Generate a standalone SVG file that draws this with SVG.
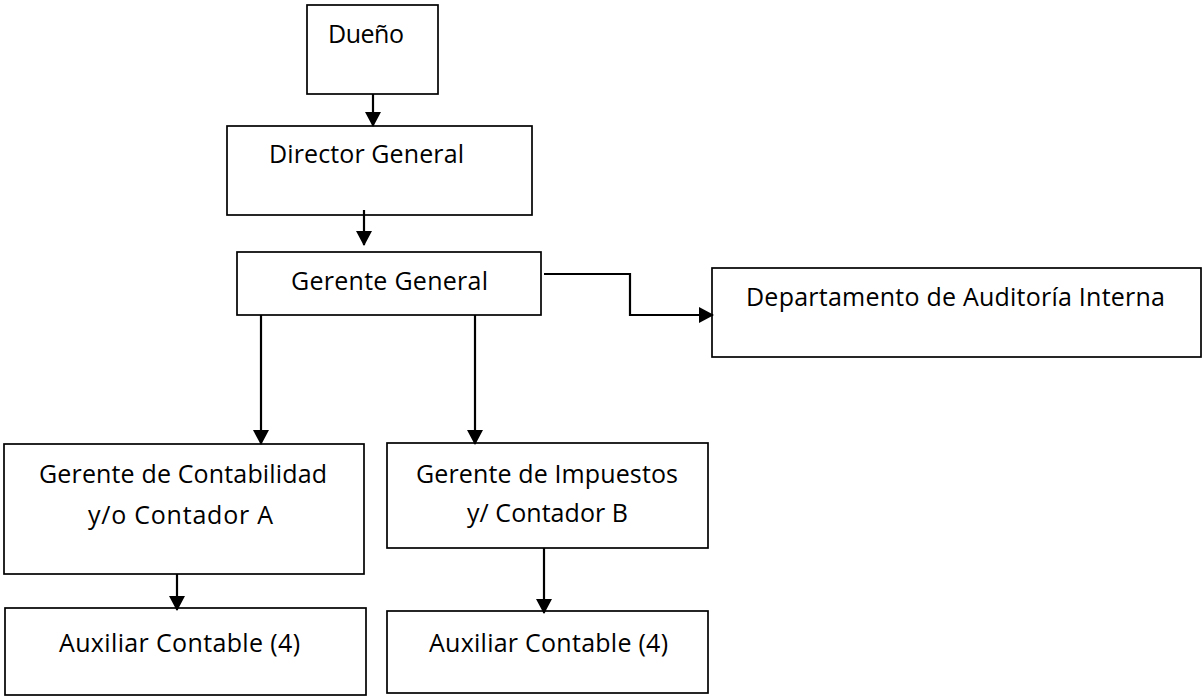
<svg xmlns="http://www.w3.org/2000/svg" width="1203" height="698" viewBox="0 0 1203 698">
<defs>
<style>
.box{fill:#fff;stroke:#000;stroke-width:1.7}
.lbl{font-family:"Open Sans","Noto Sans","Liberation Sans",Arial,sans-serif;font-size:25px;fill:#000}
.con{fill:none;stroke:#000;stroke-width:2.2}
</style>
<marker id="ah" markerUnits="userSpaceOnUse" markerWidth="15" markerHeight="16" refX="14" refY="8" orient="auto" viewBox="0 0 15 16">
<path d="M0,0 L15,8 L0,16 Z" fill="#000"/>
</marker>
</defs>
<rect width="1203" height="698" fill="#fff"/>
<g id="n-dueno">
<rect class="box" x="307" y="5" width="131" height="89"/>
<text class="lbl" x="328" y="43" textLength="76">Dueño</text>
</g>
<g id="n-director">
<rect class="box" x="227" y="126" width="305" height="89"/>
<text class="lbl" x="269" y="163" textLength="195">Director General</text>
</g>
<g id="n-gerente-general">
<rect class="box" x="237" y="252" width="304" height="63"/>
<text class="lbl" x="291" y="290" textLength="197">Gerente General</text>
</g>
<g id="n-auditoria">
<rect class="box" x="712" y="268" width="489" height="89"/>
<text class="lbl" x="746" y="306" textLength="419">Departamento de Auditoría Interna</text>
</g>
<g id="n-contabilidad">
<rect class="box" x="4" y="444" width="360" height="130"/>
<text class="lbl" x="39" y="483" textLength="288">Gerente de Contabilidad</text>
<text class="lbl" x="88" y="524" textLength="185">y/o Contador A</text>
</g>
<g id="n-impuestos">
<rect class="box" x="387" y="443" width="321" height="105"/>
<text class="lbl" x="416" y="483" textLength="262">Gerente de Impuestos</text>
<text class="lbl" x="467" y="522" textLength="161">y/ Contador B</text>
</g>
<g id="n-aux-a">
<rect class="box" x="5" y="608" width="361" height="87"/>
<text class="lbl" x="59" y="652" textLength="241">Auxiliar Contable (4)</text>
</g>
<g id="n-aux-b">
<rect class="box" x="387" y="611" width="321" height="82"/>
<text class="lbl" x="429" y="652" textLength="239">Auxiliar Contable (4)</text>
</g>
<g id="connectors">
<path class="con" d="M373,94 V126" marker-end="url(#ah)"/>
<path class="con" d="M364,210 V245" marker-end="url(#ah)"/>
<path class="con" d="M544,274 H630 V315 H713" marker-end="url(#ah)"/>
<path class="con" d="M261,315 V444" marker-end="url(#ah)"/>
<path class="con" d="M475,315 V444" marker-end="url(#ah)"/>
<path class="con" d="M177,574 V610" marker-end="url(#ah)"/>
<path class="con" d="M544,548 V613" marker-end="url(#ah)"/>
</g>
</svg>
